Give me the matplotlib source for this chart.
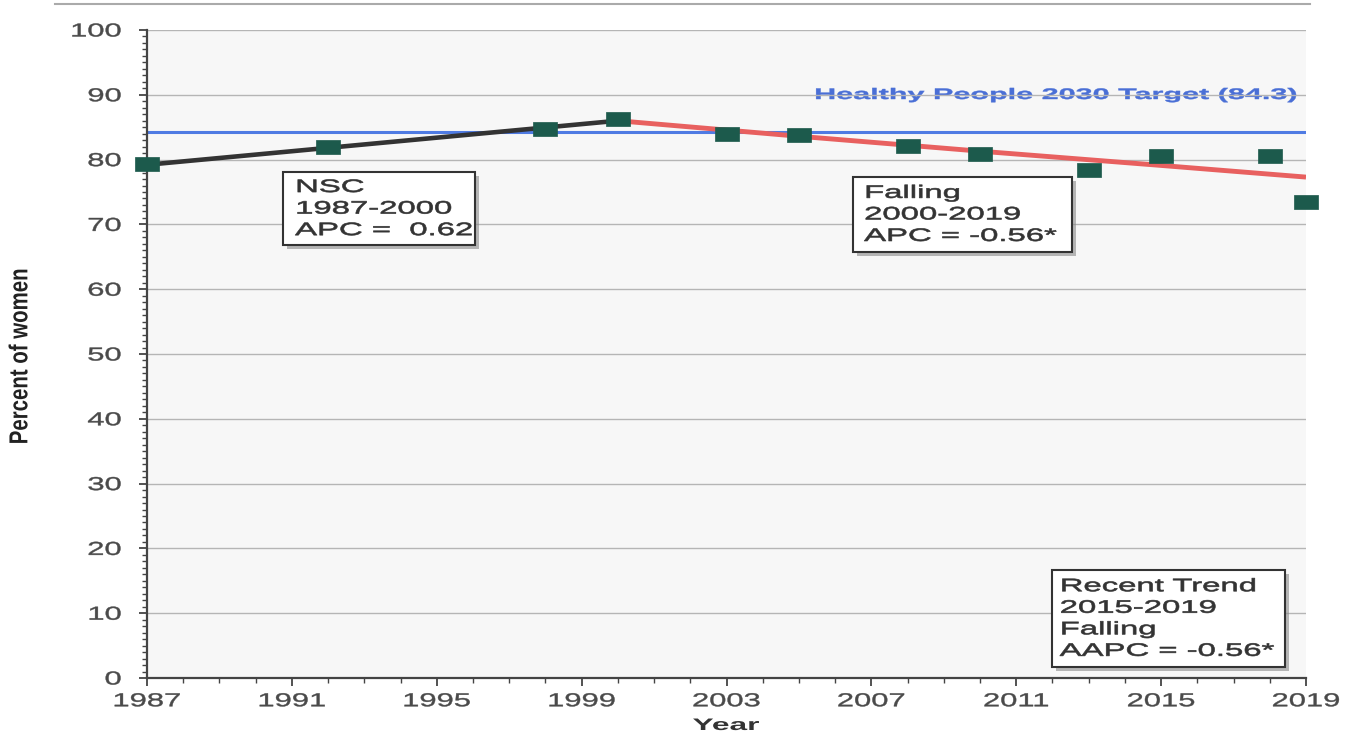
import matplotlib
matplotlib.use("Agg")
import matplotlib.pyplot as plt
from matplotlib.lines import Line2D
from matplotlib.patches import Rectangle
from matplotlib.path import Path
from matplotlib.transforms import Affine2D
from matplotlib.ticker import MultipleLocator
import matplotlib.patheffects as pe

# ---- data ----
years = [1987, 1992, 1998, 2000, 2003, 2005, 2008, 2010, 2013, 2015, 2018, 2019]
observed = [79.3, 81.9, 84.7, 86.3, 84.0, 83.8, 82.1, 80.9, 78.4, 80.6, 80.6, 73.5]

seg1_years = [1987, 2000]
seg1_fit = [79.2, 86.0]
seg2_years = [2000, 2005, 2010, 2015, 2019]
seg2_fit = [86.0, 83.6, 81.3, 79.1, 77.3]

target_value = 84.3
target_label = "Healthy People 2030 Target (84.3)"

box_texts = ["NSC\n1987-2000\nAPC =  0.62",
             "Falling\n2000-2019\nAPC = -0.56*",
             "Recent Trend\n2015-2019\nFalling\nAAPC = -0.56*"]

x_ticks = [1987, 1991, 1995, 1999, 2003, 2007, 2011, 2015, 2019]
y_ticks = [0, 10, 20, 30, 40, 50, 60, 70, 80, 90, 100]

plt.rcParams['font.family'] = ['Liberation Sans', 'DejaVu Sans']


class Stretch(pe.AbstractPathEffect):
    """Scale glyph outlines (the reference uses a horizontally widened font)."""
    def __init__(self, sx=1.0, sy=1.0, anchor='center', stroke=0.0):
        super().__init__()
        self.sx, self.sy, self.anchor, self.stroke = sx, sy, anchor, stroke

    def draw_path(self, renderer, gc, tpath, affine, rgbFace=None):
        ext = tpath.get_extents(affine)
        if self.anchor == 'left':
            ax0 = affine.transform((0, 0))[0]
        elif self.anchor == 'right':
            ax0 = ext.x1
        else:
            ax0 = 0.5 * (ext.x0 + ext.x1)
        cy = 0.5 * (ext.y0 + ext.y1)
        t = affine + Affine2D().translate(-ax0, -cy).scale(self.sx, self.sy).translate(ax0, cy)
        if self.stroke > 0 and rgbFace is not None:
            gc0 = renderer.new_gc()
            gc0.copy_properties(gc)
            gc0.set_linewidth(self.stroke)
            gc0.set_foreground(rgbFace)
            renderer.draw_path(gc0, tpath, t, rgbFace)
            gc0.restore()
        else:
            renderer.draw_path(gc, tpath, t, rgbFace)


W, H = 1347, 733
fig = plt.figure(figsize=(W / 100, H / 100), dpi=100)
fig.patch.set_facecolor('white')

x0, x1, ytop, ybot = 147, 1306, 30, 678
ax = fig.add_axes([x0 / W, 1 - ybot / H, (x1 - x0) / W, (ybot - ytop) / H])
ax.set_facecolor('#f7f7f7')

ax.set_xlim(1987, 2019)
ax.set_ylim(0, 100)

ax.set_yticks(y_ticks, labels=[str(v) for v in y_ticks])
ax.set_xticks(x_ticks, labels=[str(v) for v in x_ticks])
ax.yaxis.grid(True, color='#b5b5b5', lw=1)
ax.xaxis.grid(False)
ax.set_axisbelow(True)
ax.xaxis.set_minor_locator(MultipleLocator(1))
ax.yaxis.set_minor_locator(MultipleLocator(1))

for s in ['top', 'right']:
    ax.spines[s].set_visible(False)
for s in ['left', 'bottom']:
    ax.spines[s].set_color('#444444')
    ax.spines[s].set_linewidth(1.6)

ax.tick_params(axis='both', which='major', length=6, width=1.3, color='#444444',
               labelsize=13.5, labelcolor='#4a4a4a', direction='out')
ax.tick_params(axis='both', which='minor', length=3.5, width=1.0, color='#444444', direction='out')
ax.tick_params(axis='x', which='major', pad=5)
ax.tick_params(axis='y', which='major', pad=12.5)

for lab in ax.get_xticklabels():
    lab.set_path_effects([Stretch(sx=1.65, anchor='center', stroke=0.3)])
for lab in ax.get_yticklabels():
    lab.set_path_effects([Stretch(sx=1.65, anchor='right', stroke=0.3)])

# target
ax.axhline(target_value, color='#4f7be3', lw=2.2, zorder=2)
ax.text(2018.75, 89.35, target_label, color='#4a6fd6', fontsize=11, fontweight='bold',
        ha='right', va='baseline', zorder=0.3,
        path_effects=[Stretch(sx=2.0, anchor='right', stroke=0.3)])

# fitted lines
ax.plot(seg1_years, seg1_fit, color='#333333', lw=3.3, zorder=3, solid_capstyle='butt')
ax.plot(seg2_years, seg2_fit, color='#e8605f', lw=3.5, zorder=3, solid_capstyle='butt')

# observed (wide rectangular markers, as in the reference)
rect_marker = Path([(-1, -0.565), (1, -0.565), (1, 0.565), (-1, 0.565), (-1, -0.565)],
                   [Path.MOVETO, Path.LINETO, Path.LINETO, Path.LINETO, Path.CLOSEPOLY])
ax.plot(years, observed, ls='none', marker=rect_marker, markersize=16.6, color='#1c5a4c',
        markeredgecolor='#1c5a4c', markeredgewidth=0.5, zorder=4, clip_on=False)

# annotation boxes: (left, bottom, right, top) in data units, and text anchor
boxes = [((1990.755, 66.82, 1996.056, 78.09), (1991.09, 77.0)),
         ((2006.49, 65.74, 2012.54, 77.31), (2006.80, 76.1)),
         ((2011.99, 1.70, 2018.42, 16.67), (2012.20, 15.4))]
for txt, ((bl, bb, br, bt), (tx, ty)) in zip(box_texts, boxes):
    r = Rectangle((bl, bb), br - bl, bt - bb, facecolor='white', edgecolor='#333333',
                  linewidth=1.5, zorder=5)
    r.set_path_effects([pe.SimplePatchShadow(offset=(3, -3), shadow_rgbFace='#8a8a8a', alpha=0.6),
                        pe.Normal()])
    ax.add_patch(r)
    ax.text(tx, ty, txt, fontsize=13, color='#333333', ha='left', va='top',
            linespacing=1.35, zorder=6, path_effects=[Stretch(sx=1.82, anchor='left', stroke=0.45)])

# axis labels
fig.text(20 / W, 1 - 356 / H, 'Percent of women', rotation=90, ha='center', va='center',
         fontsize=15, fontweight='bold', color='#222222',
         path_effects=[Stretch(sx=1.25, sy=0.98)])
fig.text(726 / W, 1 - 730 / H, 'Year', ha='center', va='baseline', fontsize=12,
         fontweight='bold', color='#333333', path_effects=[Stretch(sx=1.9, anchor='center')])

# top separator line
fig.add_artist(Line2D([55 / W, 1310 / W], [1 - 4 / H, 1 - 4 / H], color='#aaaaaa', lw=1.5))

fig.savefig('out.png', dpi=100, facecolor='white')
